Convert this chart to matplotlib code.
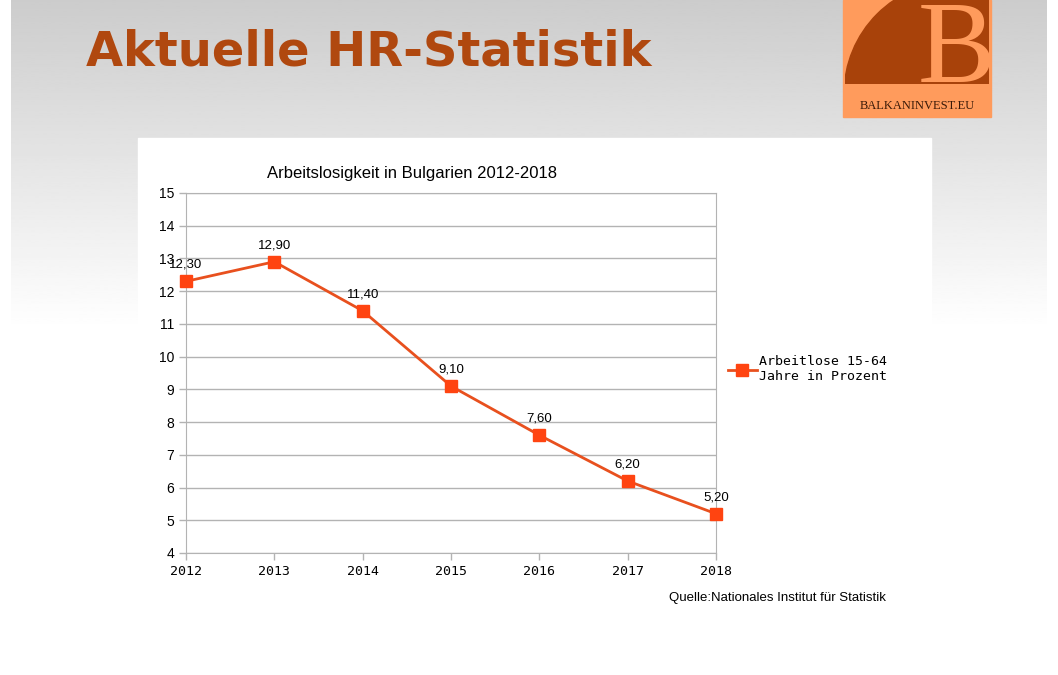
import numpy as np
import matplotlib.pyplot as plt
from matplotlib.patches import Rectangle, Circle

# ======================
# Data
# ======================
years = [2012, 2013, 2014, 2015, 2016, 2017, 2018]
unemployment = [12.3, 12.9, 11.4, 9.1, 7.6, 6.2, 5.2]
labels = ["12,30", "12,90", "11,40", "9,10", "7,60", "6,20", "5,20"]
y_ticks = list(range(4, 16))

line_col = "#e8501e"
mark_col = "#ff4411"
title_col = "#b0480f"
logo_light = "#ff9b5c"
logo_dark = "#a8420a"

W, H = 1058, 675
fig = plt.figure(figsize=(W / 100, H / 100), dpi=100)

# ======================
# Slide background (pixel coords)
# ======================
bg = fig.add_axes([0, 0, 1, 1])
bg.set_xlim(0, W)
bg.set_ylim(H, 0)
bg.axis("off")

grad = np.linspace(0.80, 1.0, 200).reshape(-1, 1)
bg.imshow(grad, cmap="gray", vmin=0, vmax=1, extent=[11, 1047, 330, 0],
          aspect="auto", interpolation="bilinear")
bg.add_patch(Rectangle((138, 138), 931 - 138, H - 138, color="white", zorder=2))

bg.text(86, 65, "Aktuelle HR-Statistik", fontsize=34.5, fontweight="bold",
        color=title_col, family="DejaVu Sans", va="baseline", ha="left")

# logo
bg.add_patch(Rectangle((843, 0), 148, 117, color=logo_light, zorder=3))
clip = Rectangle((845, 0), 144, 84, transform=bg.transData)
dark = Circle((957, 94), 113, color=logo_dark, zorder=4)
bg.add_patch(dark)
dark.set_clip_path(clip)
bee = bg.text(957, 82, "B", fontsize=84, family="Liberation Serif",
              color=logo_light, ha="center", va="baseline", zorder=5)
bee.set_clip_path(Rectangle((843, 0), 148, 84, transform=bg.transData))
bg.text(917, 109, "BALKANINVEST.EU", fontsize=9, family="Liberation Serif",
        color="#3a1a08", ha="center", va="baseline", zorder=6)

bg.text(886, 601, "Quelle:Nationales Institut für Statistik", fontsize=9.5,
        family=["Liberation Sans Narrow", "Liberation Sans"], ha="right",
        va="baseline", zorder=6)

# ======================
# Chart
# ======================
ax = fig.add_axes([186 / W, 1 - 553 / H, (716 - 186) / W, (553 - 193) / H])
ax.set_facecolor("white")
ax.plot(years, unemployment, color=line_col, lw=2, marker="s", ms=8,
        mfc=mark_col, mec=mark_col, label="Arbeitlose 15-64\nJahre in Prozent",
        zorder=5, clip_on=False)
for x, y, s in zip(years, unemployment, labels):
    ax.annotate(s, (x, y), xytext=(0, 12), textcoords="offset points",
                ha="center", va="center", fontsize=9.5,
                family="Liberation Sans", zorder=6)

ax.set_xlim(2012, 2018)
ax.set_ylim(4, 15)
ax.set_xticks(years)
ax.set_yticks(y_ticks)
ax.grid(axis="y", color="#b3b3b3", lw=1)
ax.set_axisbelow(True)
for sp in ax.spines.values():
    sp.set_color("#b3b3b3")
ax.tick_params(axis="both", color="#b3b3b3", length=5, width=1)
for t in ax.get_xticklabels():
    t.set_family("DejaVu Sans Mono")
    t.set_fontsize(9.5)
for t in ax.get_yticklabels():
    t.set_family("Liberation Sans")
    t.set_fontsize(10)

ax.text(0.427, 1.055, "Arbeitslosigkeit in Bulgarien 2012-2018",
        transform=ax.transAxes, ha="center", va="center", fontsize=12,
        family="Liberation Sans")

ax.legend(loc="center left", bbox_to_anchor=(1.0, 0.51), frameon=False,
          prop={"family": "DejaVu Sans Mono", "size": 9.5},
          handlelength=2.2, handletextpad=0.15, borderaxespad=0.5)

fig.savefig("out.png", dpi=100)
